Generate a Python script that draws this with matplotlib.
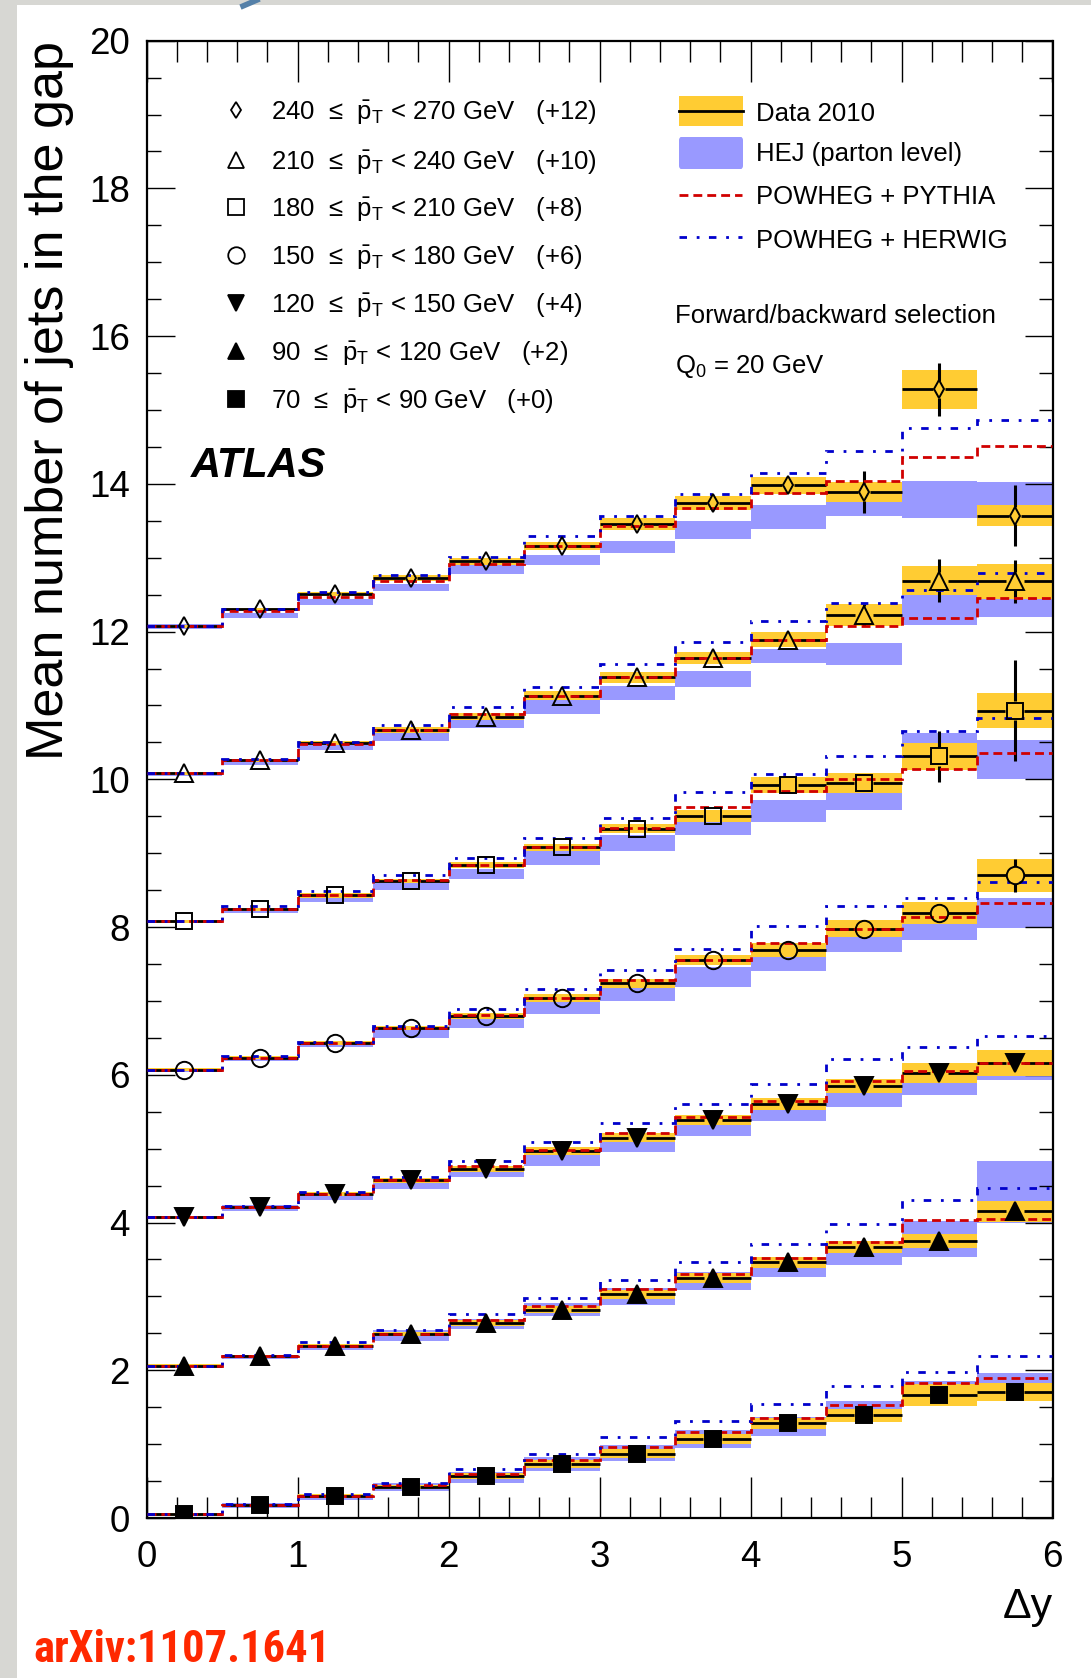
import numpy as np
import matplotlib.pyplot as plt
from matplotlib import font_manager
from matplotlib.patches import Rectangle, FancyBboxPatch
from matplotlib.lines import Line2D
from matplotlib.ticker import MultipleLocator

plt.rcParams['font.family'] = ['Liberation Sans', 'DejaVu Sans']
plt.rcParams['mathtext.fontset'] = 'custom'
plt.rcParams['mathtext.rm'] = 'Liberation Sans'
plt.rcParams['mathtext.it'] = 'Liberation Sans:italic'
plt.rcParams['mathtext.bf'] = 'Liberation Sans:bold'

# Delta y bins
dy_edges = [0.0, 0.5, 1.0, 1.5, 2.0, 2.5, 3.0, 3.5, 4.0, 4.5, 5.0, 5.5, 6.0]

# 70 <= pT < 90 GeV (+0)
data_70 = [0.05, 0.17, 0.30, 0.42, 0.57, 0.73, 0.87, 1.07, 1.28, 1.39, 1.66, 1.71]
syst_70 = [0.02, 0.02, 0.03, 0.03, 0.04, 0.05, 0.06, 0.07, 0.08, 0.09, 0.15, 0.12]
stat_70 = [0.01, 0.01, 0.02, 0.02, 0.02, 0.03, 0.03, 0.04, 0.05, 0.06, 0.08, 0.10]
pythia_70 = [0.05, 0.18, 0.30, 0.44, 0.60, 0.78, 0.96, 1.16, 1.36, 1.53, 1.83, 1.89]
herwig_70 = [0.06, 0.19, 0.32, 0.48, 0.66, 0.87, 1.09, 1.31, 1.54, 1.79, 1.98, 2.19]
hej_70 = [0.05, 0.17, 0.29, 0.42, 0.55, 0.73, 0.88, 1.07, 1.24, 1.44, 1.69, 1.79]
hejerr_70 = [0.02, 0.03, 0.04, 0.05, 0.07, 0.09, 0.11, 0.12, 0.13, 0.14, 0.16, 0.17]

# 90 <= pT < 120 GeV (+2)
data_90 = [0.06, 0.19, 0.33, 0.49, 0.64, 0.82, 1.03, 1.25, 1.46, 1.67, 1.75, 2.15]
syst_90 = [0.02, 0.02, 0.03, 0.03, 0.04, 0.05, 0.06, 0.07, 0.08, 0.08, 0.10, 0.14]
stat_90 = [0.01, 0.01, 0.01, 0.02, 0.02, 0.02, 0.03, 0.03, 0.04, 0.05, 0.08, 0.12]
pythia_90 = [0.06, 0.19, 0.33, 0.49, 0.68, 0.87, 1.10, 1.31, 1.52, 1.73, 2.04, 2.05]
herwig_90 = [0.06, 0.21, 0.38, 0.55, 0.76, 0.98, 1.22, 1.46, 1.71, 1.98, 2.31, 2.47]
hej_90 = [0.05, 0.18, 0.31, 0.47, 0.63, 0.82, 1.00, 1.21, 1.40, 1.58, 1.78, 2.41]
hejerr_90 = [0.02, 0.03, 0.04, 0.07, 0.07, 0.085, 0.11, 0.12, 0.14, 0.16, 0.24, 0.42]

# 120 <= pT < 150 GeV (+4)
data_120 = [0.07, 0.21, 0.39, 0.57, 0.73, 0.97, 1.15, 1.39, 1.60, 1.85, 2.03, 2.16]
syst_120 = [0.02, 0.02, 0.03, 0.03, 0.04, 0.05, 0.06, 0.07, 0.08, 0.10, 0.135, 0.18]
stat_120 = [0.01, 0.01, 0.02, 0.02, 0.02, 0.03, 0.03, 0.04, 0.05, 0.06, 0.08, 0.12]
pythia_120 = [0.07, 0.21, 0.39, 0.57, 0.76, 0.98, 1.21, 1.43, 1.64, 1.92, 2.05, 2.16]
herwig_120 = [0.07, 0.22, 0.42, 0.62, 0.83, 1.09, 1.35, 1.61, 1.88, 2.21, 2.37, 2.52]
hej_120 = [0.07, 0.20, 0.36, 0.53, 0.69, 0.88, 1.07, 1.29, 1.52, 1.72, 1.86, 2.05]
hejerr_120 = [0.02, 0.04, 0.06, 0.07, 0.08, 0.11, 0.12, 0.12, 0.14, 0.15, 0.135, 0.12]

# 150 <= pT < 180 GeV (+6)
data_150 = [0.07, 0.23, 0.43, 0.63, 0.80, 1.04, 1.24, 1.55, 1.69, 1.98, 2.19, 2.70]
syst_150 = [0.02, 0.02, 0.03, 0.03, 0.04, 0.05, 0.06, 0.07, 0.09, 0.11, 0.15, 0.225]
stat_150 = [0.01, 0.01, 0.02, 0.02, 0.03, 0.03, 0.04, 0.05, 0.06, 0.08, 0.12, 0.22]
pythia_150 = [0.07, 0.23, 0.43, 0.64, 0.81, 1.04, 1.29, 1.55, 1.79, 1.98, 2.14, 2.32]
herwig_150 = [0.07, 0.25, 0.45, 0.66, 0.89, 1.16, 1.42, 1.70, 2.02, 2.29, 2.40, 2.61]
hej_150 = [0.06, 0.22, 0.42, 0.56, 0.71, 0.92, 1.12, 1.33, 1.55, 1.80, 1.97, 2.19]
hejerr_150 = [0.02, 0.03, 0.04, 0.06, 0.07, 0.09, 0.12, 0.135, 0.14, 0.135, 0.15, 0.2]

# 180 <= pT < 210 GeV (+8)
data_180 = [0.08, 0.24, 0.43, 0.62, 0.84, 1.08, 1.33, 1.50, 1.92, 1.95, 2.31, 2.93]
syst_180 = [0.02, 0.02, 0.03, 0.03, 0.04, 0.05, 0.06, 0.08, 0.11, 0.135, 0.18, 0.24]
stat_180 = [0.01, 0.01, 0.02, 0.02, 0.03, 0.04, 0.05, 0.06, 0.10, 0.14, 0.35, 0.68]
pythia_180 = [0.08, 0.24, 0.43, 0.64, 0.84, 1.09, 1.34, 1.63, 1.84, 2.01, 2.14, 2.35]
herwig_180 = [0.08, 0.28, 0.49, 0.71, 0.94, 1.21, 1.48, 1.83, 2.07, 2.32, 2.65, 2.83]
hej_180 = [0.07, 0.22, 0.38, 0.55, 0.72, 0.94, 1.14, 1.35, 1.57, 1.73, 2.40, 2.27]
hejerr_180 = [0.02, 0.03, 0.04, 0.05, 0.07, 0.10, 0.11, 0.10, 0.15, 0.15, 0.23, 0.26]

# 210 <= pT < 240 GeV (+10)
data_210 = [0.08, 0.26, 0.49, 0.67, 0.85, 1.13, 1.38, 1.64, 1.89, 2.22, 2.69, 2.68]
syst_210 = [0.02, 0.02, 0.03, 0.04, 0.05, 0.06, 0.075, 0.085, 0.10, 0.15, 0.20, 0.24]
stat_210 = [0.01, 0.01, 0.02, 0.02, 0.03, 0.04, 0.05, 0.07, 0.10, 0.15, 0.29, 0.29]
pythia_210 = [0.08, 0.26, 0.48, 0.67, 0.89, 1.13, 1.39, 1.64, 1.89, 2.07, 2.19, 2.45]
herwig_210 = [0.08, 0.28, 0.51, 0.74, 0.98, 1.25, 1.56, 1.86, 2.14, 2.39, 2.56, 2.79]
hej_210 = [0.06, 0.23, 0.44, 0.58, 0.78, 0.98, 1.17, 1.36, 1.67, 1.70, 2.29, 2.35]
hejerr_210 = [0.02, 0.03, 0.04, 0.06, 0.09, 0.09, 0.09, 0.11, 0.10, 0.15, 0.20, 0.15]

# 240 <= pT < 270 GeV (+12)
data_240 = [0.07, 0.30, 0.51, 0.73, 0.95, 1.16, 1.46, 1.74, 1.98, 1.89, 3.28, 1.57]
syst_240 = [0.02, 0.02, 0.03, 0.04, 0.05, 0.06, 0.08, 0.10, 0.12, 0.13, 0.265, 0.14]
stat_240 = [0.01, 0.02, 0.02, 0.03, 0.04, 0.05, 0.07, 0.10, 0.13, 0.28, 0.36, 0.41]
pythia_240 = [0.07, 0.28, 0.47, 0.68, 0.91, 1.16, 1.43, 1.68, 1.88, 2.04, 2.37, 2.51]
herwig_240 = [0.07, 0.31, 0.53, 0.76, 1.01, 1.29, 1.57, 1.86, 2.15, 2.45, 2.75, 2.86]
hej_240 = [0.07, 0.22, 0.40, 0.60, 0.84, 0.97, 1.15, 1.38, 1.55, 1.78, 1.79, 1.75]
hejerr_240 = [0.03, 0.03, 0.04, 0.05, 0.06, 0.07, 0.08, 0.12, 0.16, 0.21, 0.25, 0.28]

offsets = [0, 2, 4, 6, 8, 10, 12]
labels = ['70', '90', '120', '150', '180', '210', '240']
upper = ['90', '120', '150', '180', '210', '240', '270']

series = [
    (data_70, syst_70, stat_70, pythia_70, herwig_70, hej_70, hejerr_70, 's', True),
    (data_90, syst_90, stat_90, pythia_90, herwig_90, hej_90, hejerr_90, '^', True),
    (data_120, syst_120, stat_120, pythia_120, herwig_120, hej_120, hejerr_120, 'v', True),
    (data_150, syst_150, stat_150, pythia_150, herwig_150, hej_150, hejerr_150, 'o', False),
    (data_180, syst_180, stat_180, pythia_180, herwig_180, hej_180, hejerr_180, 's', False),
    (data_210, syst_210, stat_210, pythia_210, herwig_210, hej_210, hejerr_210, '^', False),
    (data_240, syst_240, stat_240, pythia_240, herwig_240, hej_240, hejerr_240, 'd', False),
]

# styles
YELLOW = '#ffcc33'
HEJ_C = '#9999ff'
RED = '#d00000'
BLUE = '#0000cc'
red_ls = (0, (3.2, 1.8))
blue_ls = (0, (2.7, 3.5, 1.0, 3.4))
model_lw = 2.0
msize = {'s': 12, '^': 12.5, 'v': 12.5, 'o': 12.5, 'd': 9}
# gap (pixels) left around the marker by the data lines
hgap = {'s': 9.5, '^': 9, 'v': 9, 'o': 9, 'd': 6}
vgap = {'s': 9.5, '^': 9, 'v': 9, 'o': 9, 'd': 8.7}

W, H = 1091, 1678
fig = plt.figure(figsize=(W / 100, H / 100), dpi=100, facecolor='#d7d7d3')
fig.add_artist(Rectangle((17 / W, 0), 1, 1 - 5 / H, transform=fig.transFigure,
                         facecolor='white', edgecolor='none', zorder=-5))
fig.add_artist(Line2D([243 / W, 257 / W], [1 - 6 / H, 1.0], transform=fig.transFigure,
                      color='#5580a8', lw=4, zorder=-4))

ax_l, ax_b, ax_w, ax_h = 146.7, 1518, 905.8, 1477.3
ax = fig.add_axes([ax_l / W, 1 - ax_b / H, ax_w / W, ax_h / H])
px_x = ax_w / 6.0
px_y = ax_h / 20.0

edges = np.array(dy_edges)
centers = 0.5 * (edges[:-1] + edges[1:])
lo, hi = edges[:-1], edges[1:]

for (dat, syst, stat, pyt, her, hej, hejerr, mk, filled), off in zip(series, offsets):
    d = np.array(dat) + off
    s = np.array(syst)
    st = np.array(stat)
    hj = np.array(hej) + off
    hje = np.array(hejerr)
    ax.bar(centers, 2 * hje, bottom=hj - hje, width=0.5, color=HEJ_C, lw=0, zorder=1)
    ax.bar(centers, 2 * s, bottom=d - s, width=0.5, color=YELLOW, lw=0, zorder=2)
    gx = hgap[mk] / px_x
    gy = vgap[mk] / px_y
    ax.hlines(d, lo, centers - gx, color='black', lw=2.0, zorder=3)
    ax.hlines(d, centers + gx, hi, color='black', lw=2.0, zorder=3)
    big = st * px_y > vgap[mk] + 1
    ax.vlines(centers[big], d[big] + gy, d[big] + st[big], color='black', lw=2.2, zorder=3)
    ax.vlines(centers[big], d[big] - st[big], d[big] - gy, color='black', lw=2.2, zorder=3)
    ax.stairs(np.array(pyt) + off, edges, baseline=None, color=RED, lw=model_lw,
              linestyle=red_ls, zorder=4)
    ax.stairs(np.array(her) + off, edges, baseline=None, color=BLUE, lw=model_lw,
              linestyle=blue_ls, zorder=4)
    ax.plot(centers, d, ls='none', marker=mk, ms=msize[mk],
            mfc='black' if filled else 'none', mec='black', mew=1.4, zorder=5)

ax.set_xlim(0, 6)
ax.set_ylim(0, 20)
ax.xaxis.set_major_locator(MultipleLocator(1))
ax.xaxis.set_minor_locator(MultipleLocator(0.2))
ax.yaxis.set_major_locator(MultipleLocator(2))
ax.yaxis.set_minor_locator(MultipleLocator(0.5))
ax.tick_params(which='both', direction='in', top=True, right=True, width=1.0, color='black')
ax.tick_params(axis='x', which='major', length=29.5, labelsize=26.5, pad=16)
ax.tick_params(axis='x', which='minor', length=15)
ax.tick_params(axis='y', which='major', length=20, labelsize=26.5, pad=12)
ax.tick_params(axis='y', which='minor', length=10)
for sp in ax.spines.values():
    sp.set_linewidth(1.6)

ax.set_ylabel('Mean number of jets in the gap', fontsize=37.5, loc='top')
ax.yaxis.set_label_coords(-0.080, 1.0)
ax.set_xlabel('\u0394y', fontsize=31, loc='right')
ax.xaxis.set_label_coords(1.0, -0.047)


def fx(px):
    return px / W


def fy(py):
    return 1 - py / H


# left legend: pT bins
rows_y = [110, 159.5, 206.6, 254.8, 303, 351, 399.4]
for i, row in enumerate(range(6, -1, -1)):
    mk, filled = series[row][7], series[row][8]
    fig.add_artist(Line2D([fx(235.5)], [fy(rows_y[i])], transform=fig.transFigure,
                          ls='none', marker=mk, ms=msize[mk] * 0.95,
                          mfc='black' if filled else 'none', mec='black', mew=1.3))
    txt = (labels[row] + '  \u2264  $\\bar{\\mathrm{p}}_{\\mathrm{T}}$ < ' + upper[row]
           + ' GeV   (+%d)' % offsets[row])
    fig.text(fx(271), fy(rows_y[i] + 9), txt, fontsize=18.5, va='baseline', ha='left')

# right legend: models
fig.add_artist(Rectangle((fx(679), fy(126)), fx(742.7) - fx(679), fy(96) - fy(126),
                         transform=fig.transFigure, facecolor=YELLOW, edgecolor='none'))
fig.add_artist(Line2D([fx(679), fx(742.7)], [fy(111), fy(111)], transform=fig.transFigure,
                      color='black', lw=2.0))
fig.add_artist(FancyBboxPatch((fx(679), fy(169)), fx(743) - fx(679), fy(137) - fy(169),
                              boxstyle='round,pad=0,rounding_size=0.002',
                              transform=fig.transFigure, facecolor=HEJ_C, edgecolor='none'))
fig.add_artist(Line2D([fx(679), fx(742)], [fy(195), fy(195)], transform=fig.transFigure,
                      color=RED, lw=model_lw, linestyle=red_ls))
fig.add_artist(Line2D([fx(679), fx(742)], [fy(237), fy(237)], transform=fig.transFigure,
                      color=BLUE, lw=model_lw, linestyle=blue_ls))
fig.text(fx(755.7), fy(121), 'Data 2010', fontsize=18.5, va='baseline')
fig.text(fx(755.7), fy(161.5), 'HEJ (parton level)', fontsize=18.5, va='baseline')
fig.text(fx(755.7), fy(204), 'POWHEG + PYTHIA', fontsize=18.5, va='baseline')
fig.text(fx(755.7), fy(247.5), 'POWHEG + HERWIG', fontsize=18.5, va='baseline')
fig.text(fx(675), fy(323.3), 'Forward/backward selection', fontsize=18.5, va='baseline')
fig.text(fx(675), fy(373.3), 'Q$_{\\mathrm{0}}$ = 20 GeV', fontsize=18.5, va='baseline')

fig.text(fx(191), fy(477), 'ATLAS', fontsize=30, fontweight='bold', fontstyle='italic',
         va='baseline')


# arXiv tag in a condensed bold face if one is installed
def pick_condensed():
    names = {f.name for f in font_manager.fontManager.ttflist}
    for cand in ['Liberation Sans Narrow', 'Roboto Condensed', 'Open Sans Condensed',
                 'DejaVu Sans Condensed', 'Noto Sans Condensed']:
        if cand in names:
            return dict(family=[cand, 'Liberation Sans'])
    for f in font_manager.fontManager.ttflist:
        if f.stretch == 'condensed' and f.weight in ('bold', 700):
            return dict(family=[f.name, 'Liberation Sans'], fontstretch='condensed')
    return dict(family=['Liberation Sans', 'DejaVu Sans'])


arx = fig.text(fx(33), fy(1662), 'arXiv:1107.1641', fontsize=34, fontweight='bold',
               color='#ff2800', va='baseline', **pick_condensed())
fig.canvas.draw()
wpx = arx.get_window_extent().width
arx.set_fontsize(34 * 297.0 / wpx)

fig.savefig('out.png', dpi=100, facecolor=fig.get_facecolor())
